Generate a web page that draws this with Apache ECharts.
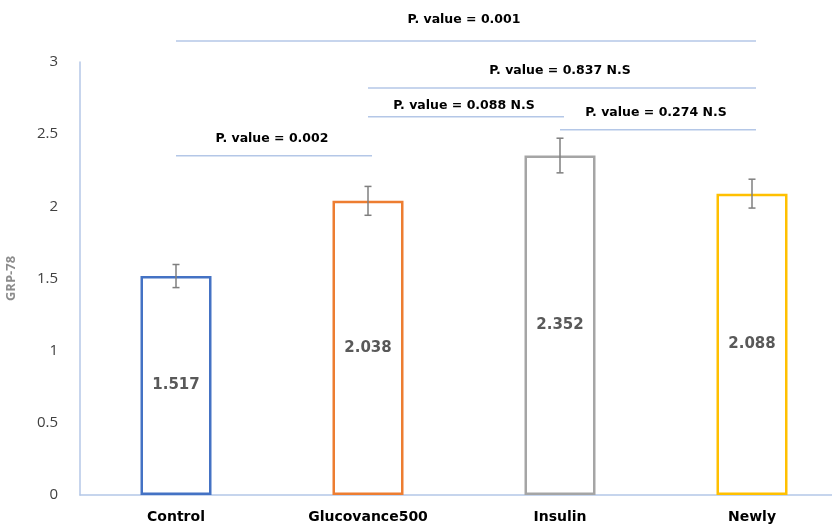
<!DOCTYPE html>
<html>
<head>
<meta charset="utf-8">
<script src="https://cdn.jsdelivr.net/npm/echarts@6/dist/echarts.min.js"></script>
<style>
  html, body { margin: 0; padding: 0; background: #fff; }
</style>
</head>
<body>
<div id="chart" style="width:832px;height:525px"></div>
<script>
const categories = ['Control', 'Glucovance500', 'Insulin', 'Newly']
const means = [1.517, 2.038, 2.352, 2.088]
const errors = [0.08, 0.1, 0.12, 0.1]
const barColors = ['#4472C4', '#ED7D31', '#A5A5A5', '#FFC000']

// significance brackets: from category, to category, line height, label height
const bracketFrom = [0, 1, 1, 2, 0]
const bracketTo = [3, 3, 2, 3, 1]
const bracketY = [3.146, 2.82, 2.62, 2.53, 2.35]
const bracketLabelY = [3.29, 2.94, 2.70, 2.65, 2.47]
const bracketText = [
  'P. value = 0.001',
  'P. value = 0.837 N.S',
  'P. value = 0.088 N.S',
  'P. value = 0.274 N.S',
  'P. value = 0.002'
]

const myChart = echarts.init(document.getElementById('chart'))

const barData = means.map((v, i) => ({
  value: v,
  itemStyle: { color: '#fff', borderColor: barColors[i], borderWidth: 2.5 }
}))

const errData = means.map((v, i) => [i, v - errors[i], v + errors[i]])
const bracketData = bracketFrom.map((f, i) => [f, bracketTo[i], bracketY[i], bracketLabelY[i], i])

myChart.setOption({
  animation: false,
  grid: { left: 80, top: 62, width: 768, height: 433, outerBoundsMode: 'none' },
  xAxis: {
    type: 'category',
    data: categories,
    axisTick: { show: false },
    axisLine: { lineStyle: { color: '#B4C7E7', width: 1.5 } },
    axisLabel: {
      color: '#000',
      fontWeight: 'bold',
      fontSize: 14,
      fontFamily: 'DejaVu Sans',
      margin: 15
    }
  },
  yAxis: {
    type: 'value',
    min: 0,
    max: 3,
    interval: 0.5,
    name: 'GRP-78',
    nameLocation: 'middle',
    nameGap: 62,
    nameRotate: 90,
    nameTextStyle: {
      color: '#8C8C8C',
      fontWeight: 'bold',
      fontSize: 13,
      fontFamily: 'Open Sans'
    },
    splitLine: { show: false },
    axisTick: { show: false },
    axisLine: { show: true, lineStyle: { color: '#B4C7E7', width: 1.5 } },
    axisLabel: {
      color: '#404040',
      fontSize: 15,
      fontFamily: 'Open Sans',
      margin: 22
    }
  },
  series: [
    {
      type: 'bar',
      barWidth: 71,
      data: barData,
      label: {
        show: true,
        position: 'inside',
        color: '#595959',
        fontWeight: 'bold',
        fontSize: 15,
        fontFamily: 'DejaVu Sans'
      },
      z: 2
    },
    {
      type: 'custom',
      data: errData,
      z: 5,
      renderItem: (params, api) => {
        const lo = api.coord([api.value(0), api.value(1)])
        const hi = api.coord([api.value(0), api.value(2)])
        const x = lo[0]
        const cap = 3.5
        const style = { stroke: '#7F7F7F', lineWidth: 1.5 }
        return {
          type: 'group',
          children: [
            { type: 'line', shape: { x1: x, y1: lo[1], x2: x, y2: hi[1] }, style },
            { type: 'line', shape: { x1: x - cap, y1: lo[1], x2: x + cap, y2: lo[1] }, style },
            { type: 'line', shape: { x1: x - cap, y1: hi[1], x2: x + cap, y2: hi[1] }, style }
          ]
        }
      }
    },
    {
      type: 'custom',
      data: bracketData,
      z: 5,
      renderItem: (params, api) => {
        const a = api.coord([api.value(0), api.value(2)])
        const b = api.coord([api.value(1), api.value(2)])
        const t = api.coord([api.value(0), api.value(3)])
        const idx = api.value(4)
        return {
          type: 'group',
          children: [
            {
              type: 'line',
              shape: { x1: a[0], y1: a[1], x2: b[0] + 4, y2: b[1] },
              style: { stroke: '#B4C7E7', lineWidth: 1.5 }
            },
            {
              type: 'text',
              style: {
                text: bracketText[idx],
                x: (a[0] + b[0]) / 2,
                y: t[1],
                align: 'center',
                verticalAlign: 'middle',
                fill: '#000',
                font: 'bold 12.5px "DejaVu Sans"'
              }
            }
          ]
        }
      }
    }
  ]
})
</script>
</body>
</html>
